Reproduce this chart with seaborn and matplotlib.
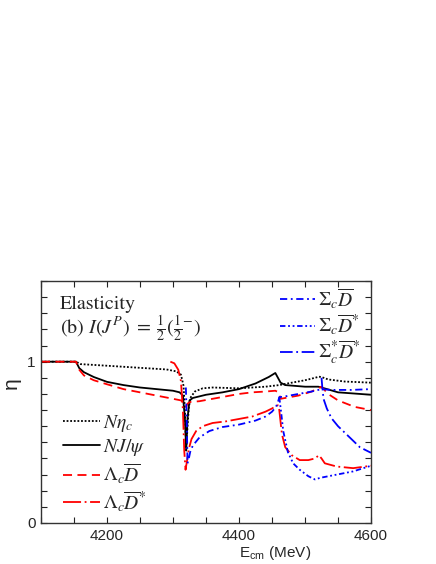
import matplotlib
matplotlib.use("Agg")
import matplotlib.pyplot as plt
import seaborn as sns
from matplotlib.ticker import MultipleLocator, FixedLocator

# N eta_c
e_neta = [4100, 4153, 4160, 4200, 4250, 4290, 4305, 4312, 4316, 4318, 4320, 4322, 4324,
          4327, 4333, 4345, 4360, 4400, 4440, 4461, 4480, 4500, 4515, 4521, 4525, 4535,
          4560, 4600]
y_neta = [1.0, 1.0, 0.985, 0.975, 0.962, 0.952, 0.94, 0.92, 0.85, 0.70, 0.45, 0.60, 0.72,
          0.78, 0.815, 0.835, 0.84, 0.835, 0.845, 0.855, 0.87, 0.885, 0.90, 0.907, 0.905,
          0.89, 0.877, 0.87]

# N J/psi
e_njpsi = [4100, 4153, 4158, 4165, 4180, 4200, 4225, 4250, 4275, 4300, 4310, 4315, 4318,
           4320, 4322, 4325, 4330, 4350, 4375, 4400, 4425, 4445, 4455, 4459, 4463, 4470,
           4500, 4520, 4525, 4550, 4600]
y_njpsi = [1.0, 1.0, 0.96, 0.935, 0.905, 0.875, 0.855, 0.84, 0.83, 0.82, 0.81, 0.79, 0.65,
           0.45, 0.65, 0.76, 0.775, 0.795, 0.81, 0.83, 0.865, 0.905, 0.93, 0.90, 0.87, 0.855,
           0.845, 0.845, 0.84, 0.81, 0.795]

# Lambda_c Dbar
e_lcd = [4100, 4153, 4158, 4165, 4180, 4200, 4225, 4250, 4275, 4300, 4312, 4318, 4320, 4322,
         4326, 4340, 4360, 4380, 4400, 4420, 4440, 4455, 4460, 4463, 4470, 4490, 4510, 4520,
         4525, 4535, 4550, 4575, 4600]
y_lcd = [1.0, 1.0, 0.95, 0.915, 0.885, 0.86, 0.83, 0.81, 0.79, 0.77, 0.76, 0.74, 0.72, 0.74,
         0.75, 0.755, 0.77, 0.785, 0.80, 0.81, 0.815, 0.82, 0.81, 0.77, 0.775, 0.79, 0.815,
         0.835, 0.845, 0.80, 0.76, 0.72, 0.70]

# Lambda_c Dbar*
e_lcds = [4296, 4302, 4308, 4312, 4315, 4317, 4319, 4321, 4324, 4328, 4335, 4345, 4360,
          4380, 4400, 4420, 4440, 4450, 4456, 4459, 4461, 4465, 4470, 4480, 4492, 4505,
          4515, 4521, 4525, 4530, 4548, 4573, 4600]
y_lcds = [1.0, 0.99, 0.95, 0.88, 0.70, 0.45, 0.33, 0.38, 0.46, 0.52, 0.57, 0.60, 0.62,
          0.63, 0.645, 0.66, 0.69, 0.71, 0.725, 0.73, 0.70, 0.55, 0.47, 0.42, 0.39, 0.39,
          0.40, 0.42, 0.40, 0.37, 0.35, 0.34, 0.355]

# Sigma_c Dbar
e_scd = [4319.5, 4321, 4322, 4324, 4326, 4330, 4340, 4355, 4375, 4400, 4425, 4440, 4450,
         4456, 4459, 4461, 4470, 4490, 4510, 4525, 4540, 4570, 4600]
y_scd = [0.84, 0.60, 0.37, 0.40, 0.44, 0.48, 0.53, 0.57, 0.595, 0.61, 0.635, 0.66, 0.69,
         0.72, 0.75, 0.78, 0.785, 0.80, 0.815, 0.83, 0.825, 0.825, 0.83]

# Sigma_c Dbar*
e_scds = [4461, 4464, 4467, 4474, 4482, 4492, 4505, 4515, 4523, 4548, 4573, 4600]
y_scds = [0.78, 0.68, 0.57, 0.44, 0.37, 0.33, 0.29, 0.27, 0.28, 0.30, 0.32, 0.355]

# Sigma_c* Dbar*
e_sssd = [4525, 4526, 4528, 4533, 4540, 4550, 4564, 4583, 4600]
y_sssd = [0.90, 0.85, 0.77, 0.71, 0.65, 0.60, 0.545, 0.47, 0.435]

sns.set_style("ticks")
plt.rcParams["font.family"] = ["Liberation Sans", "DejaVu Sans"]
plt.rcParams["mathtext.fontset"] = "stix"

fig = plt.figure(figsize=(4.36, 5.64), dpi=100)
ax = fig.add_axes([0.094, 0.0727, 0.757, 0.429])

lw = 1.3
series = [
    (e_neta, y_neta, "black", (0, (1, 1)), r"$N\eta_c$"),
    (e_njpsi, y_njpsi, "black", "-", r"$NJ/\psi$"),
    (e_lcd, y_lcd, "#ff0000", (0, (5, 3)), r"$\Lambda_c\overline{D}$"),
    (e_lcds, y_lcds, "#ff0000", (0, (10, 2, 1, 2)), r"$\Lambda_c\overline{D}^{*}$"),
    (e_scd, y_scd, "#0000ff", (0, (4, 2, 1, 2)), r"$\Sigma_c\overline{D}$"),
    (e_scds, y_scds, "#0000ff", (0, (3, 1.5, 1, 1.5, 1, 1.5)), r"$\Sigma_c\overline{D}^{*}$"),
    (e_sssd, y_sssd, "#0000ff", (0, (7, 2, 1, 2)), r"$\Sigma_c^{*}\overline{D}^{*}$"),
]
lines = []
for xs, ys, c, ls, lab in series:
    sns.lineplot(x=xs, y=ys, ax=ax, color=c, linestyle=ls, linewidth=lw,
                 estimator=None, sort=False, label=lab)
    lines.append(ax.get_lines()[-1])
if ax.get_legend() is not None:
    ax.get_legend().remove()

ax.set_xlim(4100, 4600)
ax.set_ylim(0, 1.5)
ax.xaxis.set_major_locator(FixedLocator([4200, 4400, 4600]))
ax.xaxis.set_minor_locator(MultipleLocator(50))
ax.yaxis.set_major_locator(FixedLocator([0, 1]))
ax.yaxis.set_minor_locator(MultipleLocator(0.1))
ax.tick_params(which="both", direction="in", top=True, right=True, length=4,
               width=0.8, color="#222222", labelsize=11, pad=4)
for s in ax.spines.values():
    s.set_linewidth(1.0)
    s.set_color("#333333")

ax.set_xlabel(r"E$_{\mathregular{cm}}$ (MeV)", fontsize=11)
ax.xaxis.set_label_coords(0.71, -0.085)
ax.set_ylabel("η", fontsize=15, rotation=90)
ax.yaxis.set_label_coords(-0.06, 0.58)

ax.text(0.058, 0.905, "Elasticity", transform=ax.transAxes, fontsize=14.5,
        family="STIXGeneral", va="center", ha="left")
ax.text(0.058, 0.80, r"(b) $I(J^P)\;=\;\frac{1}{2}(\frac{1}{2}^{-})$", transform=ax.transAxes,
        fontsize=14.5, family="STIXGeneral", va="center", ha="left")

leg1 = ax.legend(lines[:4], [s[4] for s in series[:4]], loc="upper left",
                 bbox_to_anchor=(0.067, 0.455), frameon=False, fontsize=14,
                 handlelength=1.9, handletextpad=0.15, labelspacing=0.17,
                 borderpad=0, borderaxespad=0)
ax.add_artist(leg1)
ax.legend(lines[4:], [s[4] for s in series[4:]], loc="upper left",
          bbox_to_anchor=(0.724, 0.978), frameon=False, fontsize=14,
          handlelength=1.8, handletextpad=0.15, labelspacing=0.1,
          borderpad=0, borderaxespad=0)

fig.savefig("out.png", dpi=100)
